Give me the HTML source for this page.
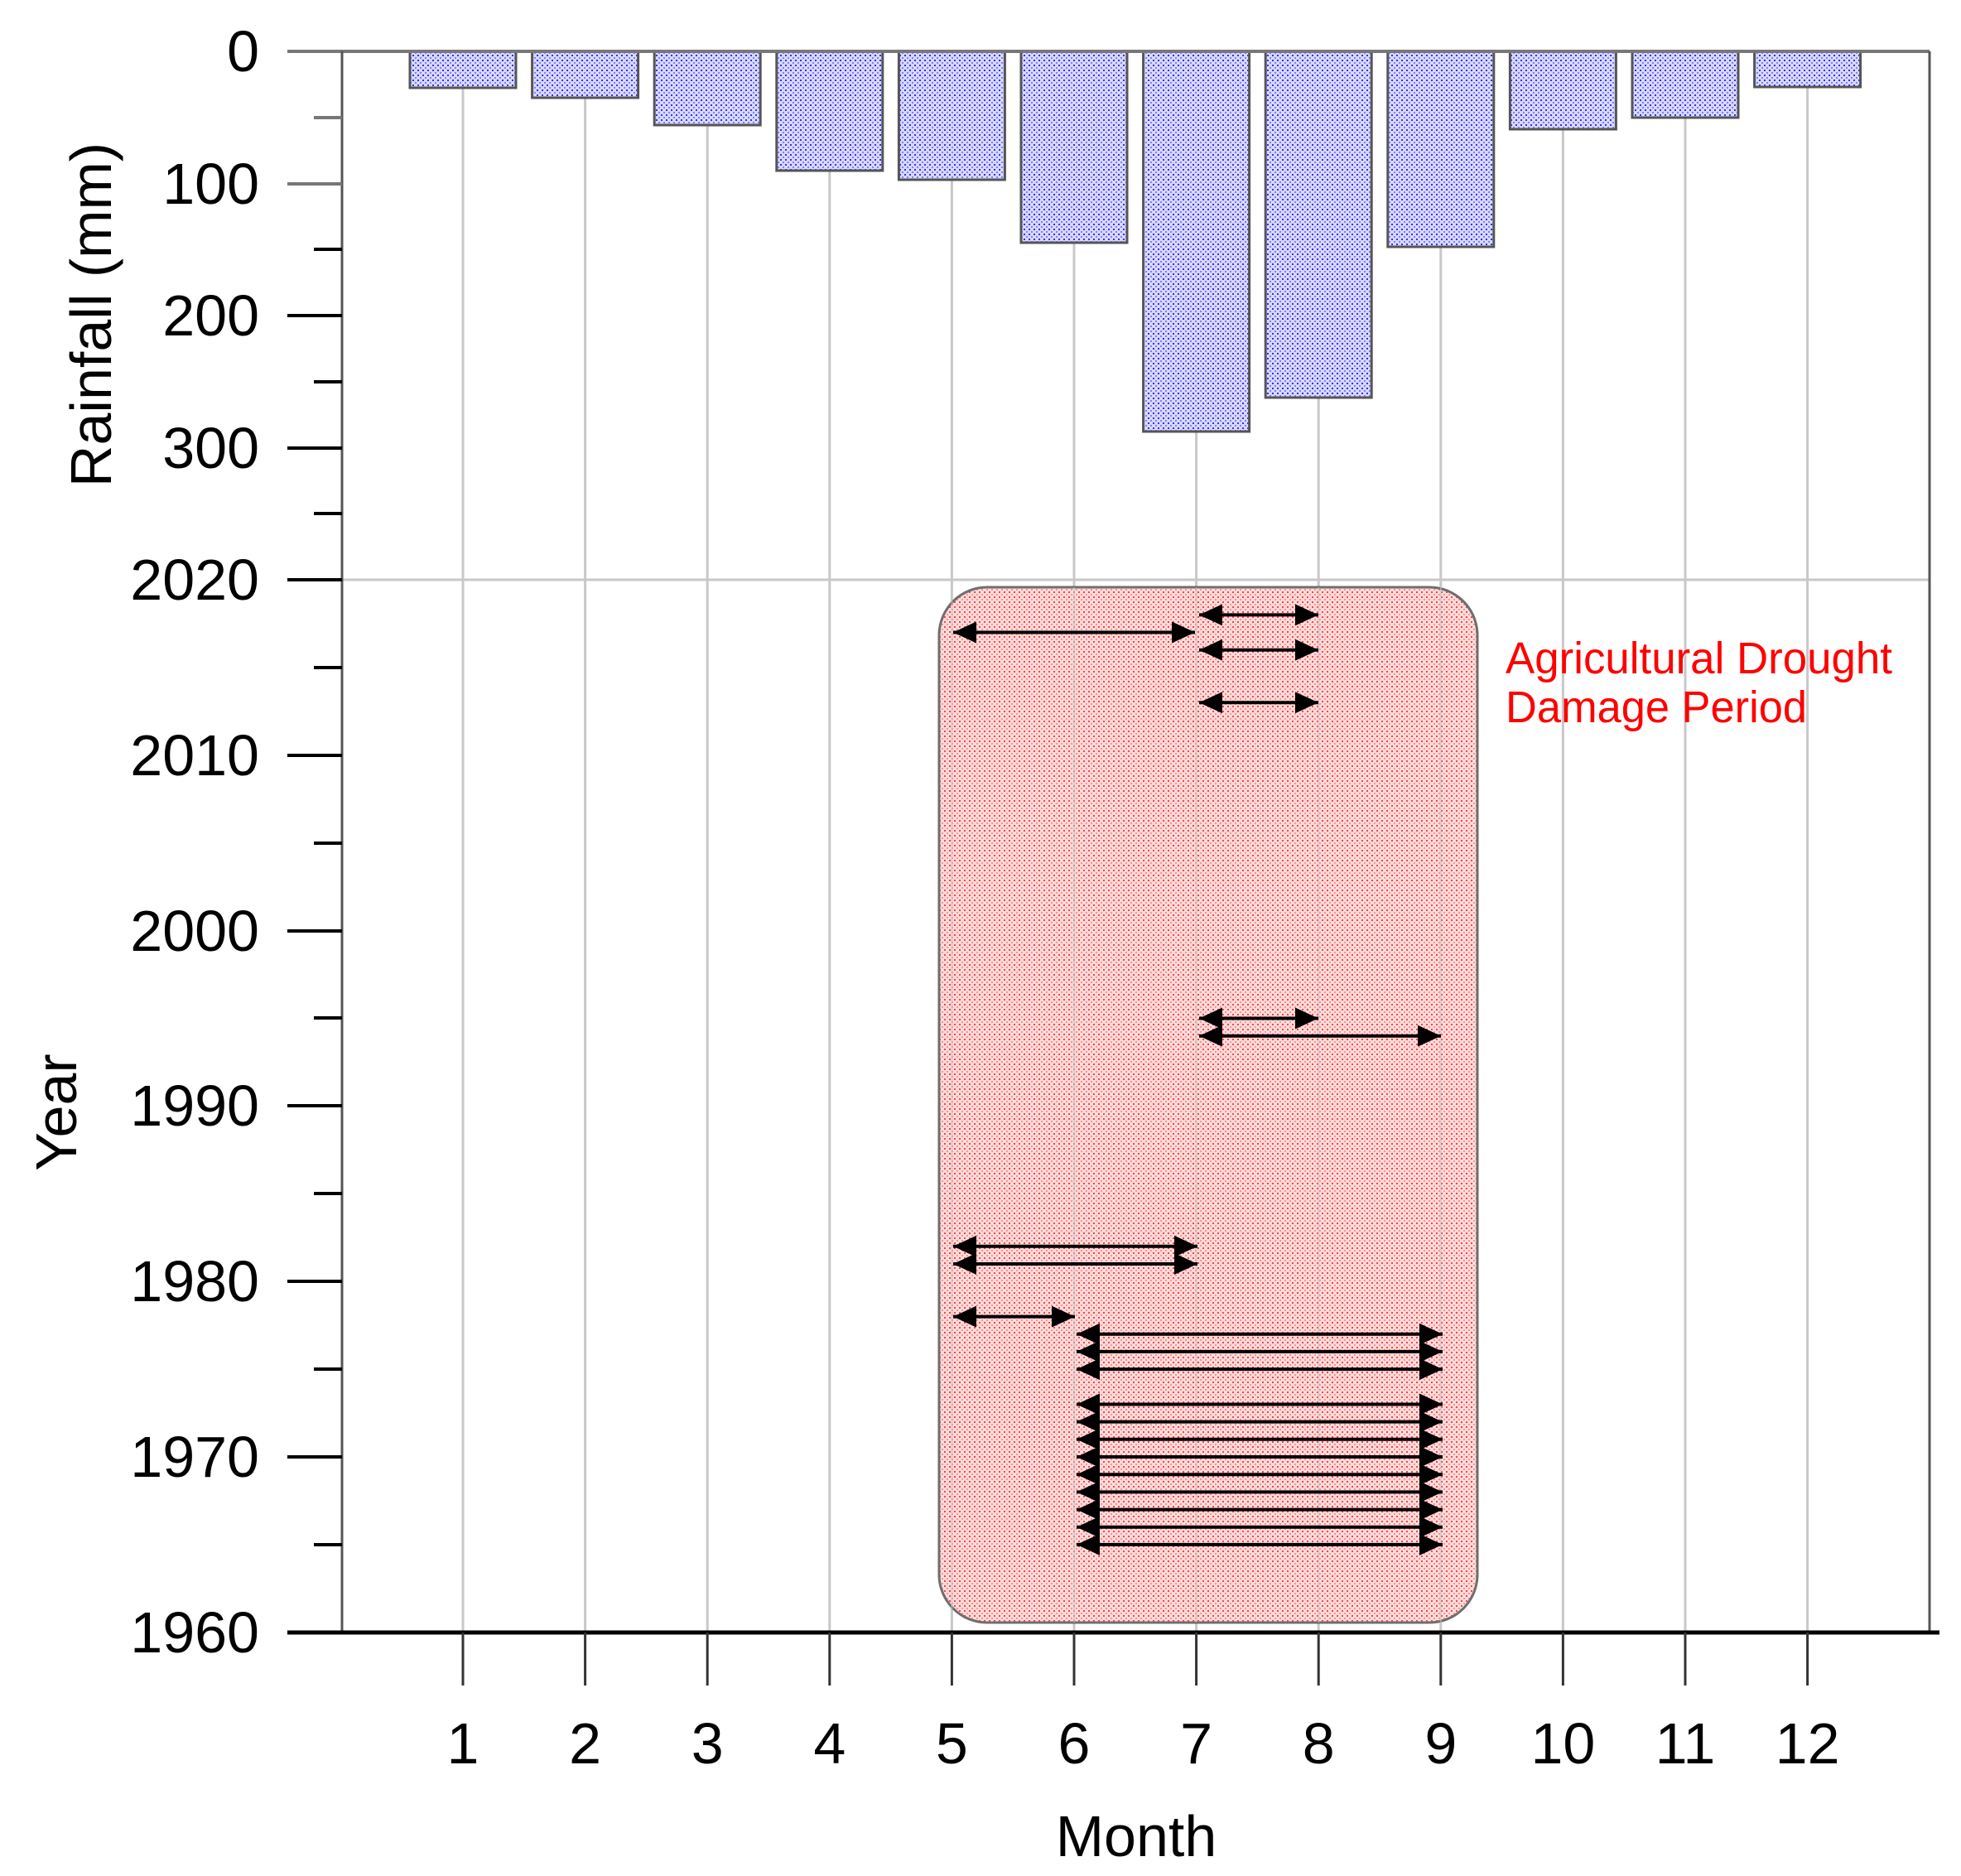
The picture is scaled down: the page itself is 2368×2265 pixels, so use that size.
<!DOCTYPE html>
<html><head><meta charset="utf-8"><style>html,body{margin:0;padding:0;background:#fff}svg{display:block}</style></head>
<body>
<svg width="2368" height="2265" viewBox="0 0 2368 2265" xmlns="http://www.w3.org/2000/svg" font-family="Liberation Sans, sans-serif">
<defs>
<pattern id="pb" width="6" height="6" patternUnits="userSpaceOnUse"><rect width="6" height="6" fill="#d8d8ff"/><rect x="0" y="0" width="2" height="2" fill="#3030ff"/><rect x="3" y="3" width="2" height="2" fill="#8080ff"/></pattern>
<pattern id="pr" width="6" height="6" patternUnits="userSpaceOnUse"><rect width="6" height="6" fill="#ffd6d6"/><rect x="0" y="0" width="2" height="2" fill="#ff2020"/><rect x="3" y="3" width="2" height="2" fill="#ff8080"/></pattern>
<marker id="ah" viewBox="0 0 28 26" refX="28" refY="13" markerWidth="28" markerHeight="26" markerUnits="userSpaceOnUse" orient="auto-start-reverse"><path d="M0,0 L28,13 L0,26 z" fill="#000"/></marker>
</defs>
<g stroke="#c8c8c8" stroke-width="3">
<line x1="559" y1="62" x2="559" y2="1971"/><line x1="706.6" y1="62" x2="706.6" y2="1971"/><line x1="854.2" y1="62" x2="854.2" y2="1971"/><line x1="1001.8" y1="62" x2="1001.8" y2="1971"/><line x1="1149.4" y1="62" x2="1149.4" y2="1971"/><line x1="1297" y1="62" x2="1297" y2="1971"/><line x1="1444.6" y1="62" x2="1444.6" y2="1971"/><line x1="1592.2" y1="62" x2="1592.2" y2="1971"/><line x1="1739.8" y1="62" x2="1739.8" y2="1971"/><line x1="1887.4" y1="62" x2="1887.4" y2="1971"/><line x1="2035" y1="62" x2="2035" y2="1971"/><line x1="2182.6" y1="62" x2="2182.6" y2="1971"/>
<line x1="413" y1="700" x2="2330" y2="700"/>
</g>
<g fill="url(#pb)" stroke="#555" stroke-width="3">
<rect x="495" y="62" width="128" height="44"/>
<rect x="642.6" y="62" width="128" height="56"/>
<rect x="790.2" y="62" width="128" height="89"/>
<rect x="937.8" y="62" width="128" height="144"/>
<rect x="1085.4" y="62" width="128" height="155"/>
<rect x="1233" y="62" width="128" height="231"/>
<rect x="1380.6" y="62" width="128" height="459"/>
<rect x="1528.2" y="62" width="128" height="418"/>
<rect x="1675.8" y="62" width="128" height="236"/>
<rect x="1823.4" y="62" width="128" height="94"/>
<rect x="1971" y="62" width="128" height="80"/>
<rect x="2118.6" y="62" width="128" height="43"/>
</g>
<rect x="1134" y="709" width="650" height="1250" rx="58" fill="url(#pr)" stroke="#555" stroke-width="3" opacity="0.85"/>
<g stroke="#c8c8c8" stroke-width="2" opacity="0.6"><line x1="1149.4" y1="709" x2="1149.4" y2="1959"/><line x1="1297" y1="709" x2="1297" y2="1959"/><line x1="1444.6" y1="709" x2="1444.6" y2="1959"/><line x1="1592.2" y1="709" x2="1592.2" y2="1959"/><line x1="1739.8" y1="709" x2="1739.8" y2="1959"/></g>
<g stroke="#000" stroke-width="4">
<line x1="347" y1="62" x2="2330" y2="62" stroke="#777"/>
<line x1="413" y1="62" x2="413" y2="1971" stroke="#555" stroke-width="3"/>
<line x1="2330" y1="62" x2="2330" y2="1971" stroke="#555" stroke-width="3"/>
<line x1="347" y1="1971" x2="2342" y2="1971" stroke-width="5"/>
<line x1="347" y1="222" x2="413" y2="222" stroke="#777"/><line x1="347" y1="381" x2="413" y2="381"/><line x1="347" y1="541" x2="413" y2="541"/><line x1="347" y1="700" x2="413" y2="700"/>
<line x1="379" y1="142" x2="413" y2="142" stroke="#777"/><line x1="379" y1="301" x2="413" y2="301"/><line x1="379" y1="461" x2="413" y2="461"/><line x1="379" y1="620" x2="413" y2="620"/>
<line x1="347" y1="912" x2="413" y2="912"/><line x1="347" y1="1124" x2="413" y2="1124"/><line x1="347" y1="1335" x2="413" y2="1335"/><line x1="347" y1="1547" x2="413" y2="1547"/><line x1="347" y1="1759" x2="413" y2="1759"/>
<line x1="379" y1="806" x2="413" y2="806"/><line x1="379" y1="1018" x2="413" y2="1018"/><line x1="379" y1="1229" x2="413" y2="1229"/><line x1="379" y1="1441" x2="413" y2="1441"/><line x1="379" y1="1653" x2="413" y2="1653"/><line x1="379" y1="1865" x2="413" y2="1865"/>
</g>
<g stroke="#333" stroke-width="3">
<line x1="559" y1="1971" x2="559" y2="2035"/><line x1="706.6" y1="1971" x2="706.6" y2="2035"/><line x1="854.2" y1="1971" x2="854.2" y2="2035"/><line x1="1001.8" y1="1971" x2="1001.8" y2="2035"/><line x1="1149.4" y1="1971" x2="1149.4" y2="2035"/><line x1="1297" y1="1971" x2="1297" y2="2035"/><line x1="1444.6" y1="1971" x2="1444.6" y2="2035"/><line x1="1592.2" y1="1971" x2="1592.2" y2="2035"/><line x1="1739.8" y1="1971" x2="1739.8" y2="2035"/><line x1="1887.4" y1="1971" x2="1887.4" y2="2035"/><line x1="2035" y1="1971" x2="2035" y2="2035"/><line x1="2182.6" y1="1971" x2="2182.6" y2="2035"/>
</g>
<g font-size="70" text-anchor="end" fill="#000">
<text x="313" y="86">0</text><text x="313" y="246">100</text><text x="313" y="405">200</text><text x="313" y="565">300</text>
<text x="313" y="724">2020</text><text x="313" y="936">2010</text><text x="313" y="1148">2000</text><text x="313" y="1359">1990</text><text x="313" y="1571">1980</text><text x="313" y="1783">1970</text><text x="313" y="1995">1960</text>
</g>
<g font-size="70" text-anchor="middle" fill="#000">
<text x="559" y="2129">1</text><text x="706.6" y="2129">2</text><text x="854.2" y="2129">3</text><text x="1001.8" y="2129">4</text><text x="1149.4" y="2129">5</text><text x="1297" y="2129">6</text><text x="1444.6" y="2129">7</text><text x="1592.2" y="2129">8</text><text x="1739.8" y="2129">9</text><text x="1887.4" y="2129">10</text><text x="2035" y="2129">11</text><text x="2182.6" y="2129">12</text>
<text x="1372" y="2241">Month</text>
<text transform="translate(134,380) rotate(-90)">Rainfall (mm)</text>
<text transform="translate(92,1343) rotate(-90)">Year</text>
</g>
<text x="1818" y="813" font-size="54" fill="#ff0000" textLength="467" lengthAdjust="spacingAndGlyphs">Agricultural Drought</text>
<text x="1818" y="872" font-size="54" fill="#ff0000" textLength="364" lengthAdjust="spacingAndGlyphs">Damage Period</text>
<g stroke="#000" stroke-width="4" marker-start="url(#ah)" marker-end="url(#ah)">
<line x1="1448" y1="742.4" x2="1592" y2="742.4"/>
<line x1="1151" y1="763.5" x2="1443" y2="763.5"/>
<line x1="1448" y1="784.7" x2="1592" y2="784.7"/>
<line x1="1448" y1="848.3" x2="1592" y2="848.3"/>
<line x1="1448" y1="1229.5" x2="1592" y2="1229.5"/>
<line x1="1448" y1="1250.7" x2="1740" y2="1250.7"/>
<line x1="1151" y1="1504.8" x2="1446" y2="1504.8"/>
<line x1="1151" y1="1526" x2="1446" y2="1526"/>
<line x1="1151" y1="1589.6" x2="1298" y2="1589.6"/>
<line x1="1300" y1="1610.7" x2="1742" y2="1610.7"/>
<line x1="1300" y1="1631.9" x2="1742" y2="1631.9"/>
<line x1="1300" y1="1653.1" x2="1742" y2="1653.1"/>
<line x1="1300" y1="1695.5" x2="1742" y2="1695.5"/>
<line x1="1300" y1="1716.6" x2="1742" y2="1716.6"/>
<line x1="1300" y1="1737.8" x2="1742" y2="1737.8"/>
<line x1="1300" y1="1759" x2="1742" y2="1759"/>
<line x1="1300" y1="1780.2" x2="1742" y2="1780.2"/>
<line x1="1300" y1="1801.4" x2="1742" y2="1801.4"/>
<line x1="1300" y1="1822.6" x2="1742" y2="1822.6"/>
<line x1="1300" y1="1843.7" x2="1742" y2="1843.7"/>
<line x1="1300" y1="1864.9" x2="1742" y2="1864.9"/>
</g>
</svg>
</body></html>
